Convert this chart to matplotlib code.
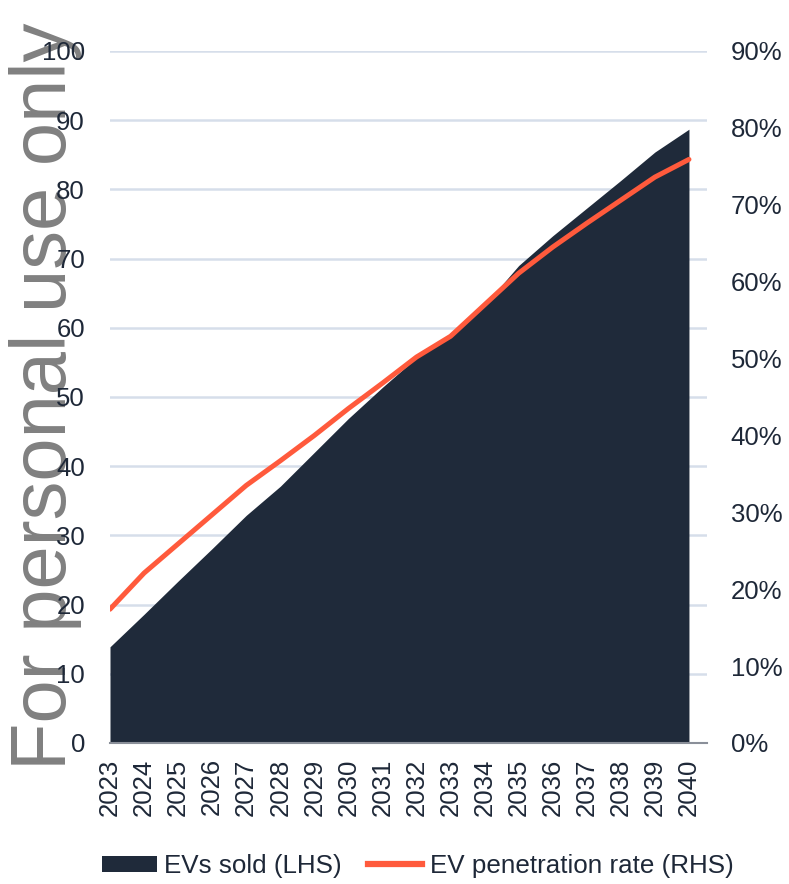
import numpy as np
import matplotlib
matplotlib.use("Agg")
import matplotlib.pyplot as plt
from matplotlib.patches import Patch
from matplotlib.lines import Line2D

plt.rcParams['font.family'] = ['Liberation Sans', 'DejaVu Sans']

# data
years = list(range(2023, 2041))
evs_sold = [13.9, 18.6, 23.4, 28.1, 32.9, 37.1, 42.0, 46.9, 51.4, 55.7, 58.8,
            63.3, 69.0, 73.3, 77.3, 81.3, 85.4, 88.7]
penetration = [17.4, 22.1, 25.9, 29.7, 33.5, 36.7, 40.0, 43.5, 46.8, 50.2, 52.9,
               57.0, 61.1, 64.5, 67.6, 70.6, 73.6, 75.9]
left_ticks = list(range(0, 101, 10))
right_ticks = list(range(0, 91, 10))

navy = '#1f2a3a'
red = '#ff5a3c'
txt = '#1e2838'
grid_c = '#d6deea'

W, H = 789, 884
fig = plt.figure(figsize=(W / 100, H / 100), dpi=100)
ax = fig.add_axes([110 / W, 1 - 743 / H, (707 - 110) / W, (743 - 51) / H])

ax.fill_between(years, evs_sold, 0, color=navy, lw=0, zorder=2)
ax.set_xlim(2023, 2040.53)
ax.set_ylim(0, 100)
ax.set_yticks(left_ticks)
ax.yaxis.grid(True, color=grid_c, lw=1.8, zorder=0)
ax.set_axisbelow(True)
ax.set_xticks(years)
ax.set_xticklabels([str(y) for y in years], rotation=90)
ax.tick_params(axis='y', length=0, pad=18, labelsize=18.5, labelcolor=txt)
ax.tick_params(axis='x', length=0, pad=11, labelsize=18.5, labelcolor=txt)
for s in ['left', 'right', 'top']:
    ax.spines[s].set_visible(False)
ax.spines['bottom'].set_color('#8a8f99')
ax.spines['bottom'].set_linewidth(1.5)
ax.spines['bottom'].set_zorder(3)

ax2 = ax.twinx()
ax2.plot(years, penetration, color=red, lw=3.6, solid_capstyle='round', zorder=4)
ax2.set_ylim(0, 90)
ax2.set_yticks(right_ticks)
ax2.set_yticklabels([f'{t}%' for t in right_ticks])
ax2.tick_params(axis='y', length=0, pad=17, labelsize=18.5, labelcolor=txt)
for s in ax2.spines.values():
    s.set_visible(False)

handles = [Patch(facecolor=navy, edgecolor='none'),
           Line2D([0], [0], color=red, lw=4.5)]
fig.legend(handles, ['EVs sold (LHS)', 'EV penetration rate (RHS)'],
           loc='center', bbox_to_anchor=(418 / W, 1 - 866 / H), ncol=2,
           frameon=False, fontsize=18.7, labelcolor=txt, handlelength=2.1,
           handleheight=0.55, handletextpad=0.3, columnspacing=1.0,
           borderpad=0)

fig.text(66 / W, 1 - 770 / H, 'For personal use only', rotation=90,
         rotation_mode='anchor', ha='left', va='baseline', fontsize=56,
         color='#808080', zorder=-1)

fig.savefig('out.png', dpi=100)
